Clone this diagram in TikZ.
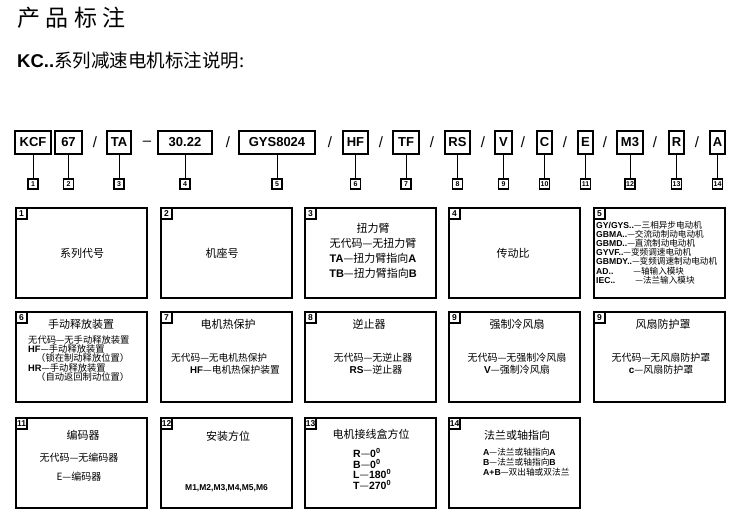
\documentclass[tikz,border=0pt]{standalone}
\usepackage{fontspec}
\setmainfont{Liberation Sans}
\newfontfamily\cjk{Noto Sans CJK SC}
\newcommand\lat[1]{{\normalfont\bfseries #1}}

\tikzset{
  codebox/.style={draw,line width=1.1pt,outer sep=0pt,inner sep=0pt,minimum height=23pt,
    font=\bfseries\fontsize{13}{13}\selectfont},
  sepmark/.style={font=\fontsize{15}{15}\selectfont},
  numtag/.style={draw,line width=1.1pt,outer sep=0pt,inner sep=0pt,minimum size=10pt,
    font=\bfseries\fontsize{7}{7}\selectfont},
  infobox/.style={draw,line width=1.4pt,outer sep=0pt,inner sep=0pt,minimum width=131pt,minimum height=90pt},
  cornertag/.style={draw,line width=1.1pt,outer sep=0pt,inner sep=0pt,anchor=north west,minimum size=11pt,
    font=\bfseries\fontsize{8.5}{8.5}\selectfont},
  txt/.style={inner sep=0pt,align=center,font=\cjk\fontsize{10}{12}\selectfont},
}

\begin{document}
\begin{tikzpicture}[x=1pt,y=-1pt]
    \useasboundingbox (0,0) rectangle (735,512);

    \node[anchor=west,inner sep=0pt,font=\cjk\fontsize{23}{23}\selectfont] (title) at (17,18)
      {产\hspace{5.5pt}品\hspace{5.5pt}标\hspace{5.5pt}注};
    \node[anchor=west,inner sep=0pt,font=\cjk\fontsize{18.5}{18.5}\selectfont] (subtitle) at (17,60)
      {\lat{KC..}系列减速电机标注说明:};

    % model code
    \node[codebox,minimum width=36pt] (c1) at (33,142.5) {KCF};
    \node[codebox,minimum width=27pt] (c2) at (68.5,142.5) {67};
    \node[sepmark] (s1) at (95,142.5) {/};
    \node[codebox,minimum width=24pt] (c3) at (119,142.5) {TA};
    \node[sepmark] (s2) at (147,143.5) {--};
    \node[codebox,minimum width=54pt] (c4) at (185,142.5) {30.22};
    \node[sepmark] (s3) at (228,142.5) {/};
    \node[codebox,minimum width=76pt] (c5) at (277,142.5) {GYS8024};
    \node[sepmark] (s4) at (330,142.5) {/};
    \node[codebox,minimum width=25pt] (c6) at (355.5,142.5) {HF};
    \node[sepmark] (s5) at (381,142.5) {/};
    \node[codebox,minimum width=26pt] (c7) at (406,142.5) {TF};
    \node[sepmark] (s6) at (432,142.5) {/};
    \node[codebox,minimum width=25pt] (c8) at (457.5,142.5) {RS};
    \node[sepmark] (s7) at (483,142.5) {/};
    \node[codebox,minimum width=17pt] (c9) at (503.5,142.5) {V};
    \node[sepmark] (s8) at (523,142.5) {/};
    \node[codebox,minimum width=15pt] (c10) at (544.5,142.5) {C};
    \node[sepmark] (s9) at (565,142.5) {/};
    \node[codebox,minimum width=15pt] (c11) at (585.5,142.5) {E};
    \node[sepmark] (s10) at (605,142.5) {/};
    \node[codebox,minimum width=26pt] (c12) at (630,142.5) {M3};
    \node[sepmark] (s11) at (655,142.5) {/};
    \node[codebox,minimum width=15pt] (c13) at (676.5,142.5) {R};
    \node[sepmark] (s12) at (697,142.5) {/};
    \node[codebox,minimum width=15pt] (c14) at (717.5,142.5) {A};

    % numbers under the code
    \node[numtag] (n1) at (33,184) {1};
    \node[numtag] (n2) at (68.5,184) {2};
    \node[numtag] (n3) at (119,184) {3};
    \node[numtag] (n4) at (185,184) {4};
    \node[numtag] (n5) at (277,184) {5};
    \node[numtag] (n6) at (355.5,184) {6};
    \node[numtag] (n7) at (406,184) {7};
    \node[numtag] (n8) at (457.5,184) {8};
    \node[numtag] (n9) at (503.5,184) {9};
    \node[numtag] (n10) at (544.5,184) {10};
    \node[numtag] (n11) at (585.5,184) {11};
    \node[numtag] (n12) at (630,184) {12};
    \node[numtag] (n13) at (676.5,184) {13};
    \node[numtag] (n14) at (717.5,184) {14};

    \draw[line width=1pt] (c1) -- (n1);
    \draw[line width=1pt] (c2) -- (n2);
    \draw[line width=1pt] (c3) -- (n3);
    \draw[line width=1pt] (c4) -- (n4);
    \draw[line width=1pt] (c5) -- (n5);
    \draw[line width=1pt] (c6) -- (n6);
    \draw[line width=1pt] (c7) -- (n7);
    \draw[line width=1pt] (c8) -- (n8);
    \draw[line width=1pt] (c9) -- (n9);
    \draw[line width=1pt] (c10) -- (n10);
    \draw[line width=1pt] (c11) -- (n11);
    \draw[line width=1pt] (c12) -- (n12);
    \draw[line width=1pt] (c13) -- (n13);
    \draw[line width=1pt] (c14) -- (n14);

    % first row
    \node[infobox] (b1) at (81.5,253) {};
    \node[cornertag] (t1) at (b1.north west) {1};
    \node[txt,font=\cjk\fontsize{11}{11}\selectfont] (x1) at (82,253) {系列代号};

    \node[infobox] (b2) at (226.5,253) {};
    \node[cornertag] (t2) at (b2.north west) {2};
    \node[txt,font=\cjk\fontsize{11}{11}\selectfont] (x2) at (222,253) {机座号};

    \node[infobox] (b3) at (370.5,253) {};
    \node[cornertag] (t3) at (b3.north west) {3};
    \node[txt,font=\cjk\fontsize{11}{15}\selectfont] (x3) at (373,251)
      {扭力臂\\无代码—无扭力臂\\\lat{TA}—扭力臂指向\lat{A}\\\lat{TB}—扭力臂指向\lat{B}};

    \node[infobox] (b4) at (514.5,253) {};
    \node[cornertag] (t4) at (b4.north west) {4};
    \node[txt,font=\cjk\fontsize{11}{11}\selectfont] (x4) at (513,253) {传动比};

    \node[infobox] (b5) at (659.5,253) {};
    \node[cornertag] (t5) at (b5.north west) {5};
    \node[txt,anchor=west,align=left,font=\cjk\fontsize{8.6}{9.2}\selectfont] (x5) at (596,252.5)
      {\lat{GY/GYS..}—三相异步电动机\\
       \lat{GBMA..}—交流动制动电动机\\
       \lat{GBMD..}—直流制动电动机\\
       \lat{GYVF..}—变频调速电动机\\
       \lat{GBMDY..}—变频调速制动电动机\\
       \lat{AD..}\hspace{20pt}—轴输入模块\\
       \lat{IEC..}\hspace{20pt}—法兰输入模块};

    % second row
    \node[infobox] (b6) at (81.5,357) {};
    \node[cornertag] (t6) at (b6.north west) {6};
    \node[txt,font=\cjk\fontsize{11}{11}\selectfont] (h6) at (81,324) {手动释放装置};
    \node[txt,anchor=west,align=left,font=\cjk\fontsize{9.3}{9.3}\selectfont] (x6) at (28,358.5)
      {无代码—无手动释放装置\\
       \lat{HF}—手动释放装置\\
       \hspace{8pt}（锁在制动释放位置）\\
       \lat{HR}—手动释放装置\\
       \hspace{8pt}（自动返回制动位置）};

    \node[infobox] (b7) at (226.5,357) {};
    \node[cornertag] (t7) at (b7.north west) {7};
    \node[txt,font=\cjk\fontsize{11}{11}\selectfont] (h7) at (228,324) {电机热保护};
    \node[txt,anchor=west,align=left,font=\cjk\fontsize{9.7}{12}\selectfont] (x7) at (171,364)
      {无代码—无电机热保护\\\hspace{19pt}\lat{HF}—电机热保护装置};

    \node[infobox] (b8) at (370.5,357) {};
    \node[cornertag] (t8) at (b8.north west) {8};
    \node[txt,font=\cjk\fontsize{11}{11}\selectfont] (h8) at (369,324) {逆止器};
    \node[txt,font=\cjk\fontsize{10}{12}\selectfont] (x8) at (373,364)
      {无代码—无逆止器\\\hspace{6pt}\lat{RS}—逆止器};

    \node[infobox] (b9) at (514.5,357) {};
    \node[cornertag] (t9) at (b9.north west) {9};
    \node[txt,font=\cjk\fontsize{11}{11}\selectfont] (h9) at (517,324) {强制冷风扇};
    \node[txt,font=\cjk\fontsize{10}{12}\selectfont] (x9) at (517,364)
      {无代码—无强制冷风扇\\\lat{V}—强制冷风扇};

    \node[infobox] (b10) at (659.5,357) {};
    \node[cornertag] (t10) at (b10.north west) {9};
    \node[txt,font=\cjk\fontsize{11}{11}\selectfont] (h10) at (663,324) {风扇防护罩};
    \node[txt,font=\cjk\fontsize{10}{12}\selectfont] (x10) at (661,364)
      {无代码—无风扇防护罩\\\lat{c}—风扇防护罩};

    % third row
    \node[infobox] (b11) at (81.5,463) {};
    \node[cornertag] (t11) at (b11.north west) {11};
    \node[txt,font=\cjk\fontsize{11}{11}\selectfont] (h11) at (83,435) {编码器};
    \node[txt,font=\cjk\fontsize{10}{19}\selectfont] (x11) at (79,467.5)
      {无代码—无编码器\\E—编码器};

    \node[infobox] (b12) at (226.5,463) {};
    \node[cornertag] (t12) at (b12.north west) {12};
    \node[txt,font=\cjk\fontsize{11}{11}\selectfont] (h12) at (228,436) {安装方位};
    \node[txt,font=\bfseries\fontsize{8.5}{8.5}\selectfont] (x12) at (226.5,488) {M1,M2,M3,M4,M5,M6};

    \node[infobox] (b13) at (370.5,463) {};
    \node[cornertag] (t13) at (b13.north west) {13};
    \node[txt,font=\cjk\fontsize{11}{11}\selectfont] (h13) at (371,434) {电机接线盒方位};
    \node[txt,anchor=west,align=left,font=\cjk\fontsize{10.5}{10.6}\selectfont] (x13) at (353,469)
      {\lat{R}—\lat{0\textsuperscript{0}}\\\lat{B}—\lat{0\textsuperscript{0}}\\
       \lat{L}—\lat{180\textsuperscript{0}}\\\lat{T}—\lat{270\textsuperscript{0}}};

    \node[infobox] (b14) at (514.5,463) {};
    \node[cornertag] (t14) at (b14.north west) {14};
    \node[txt,font=\cjk\fontsize{11}{11}\selectfont] (h14) at (517,435) {法兰或轴指向};
    \node[txt,anchor=west,align=left,font=\cjk\fontsize{8.7}{10}\selectfont] (x14) at (483,462)
      {\lat{A}—法兰或轴指向\lat{A}\\\lat{B}—法兰或轴指向\lat{B}\\\lat{A+B}—双出轴或双法兰};
\end{tikzpicture}
\end{document}
